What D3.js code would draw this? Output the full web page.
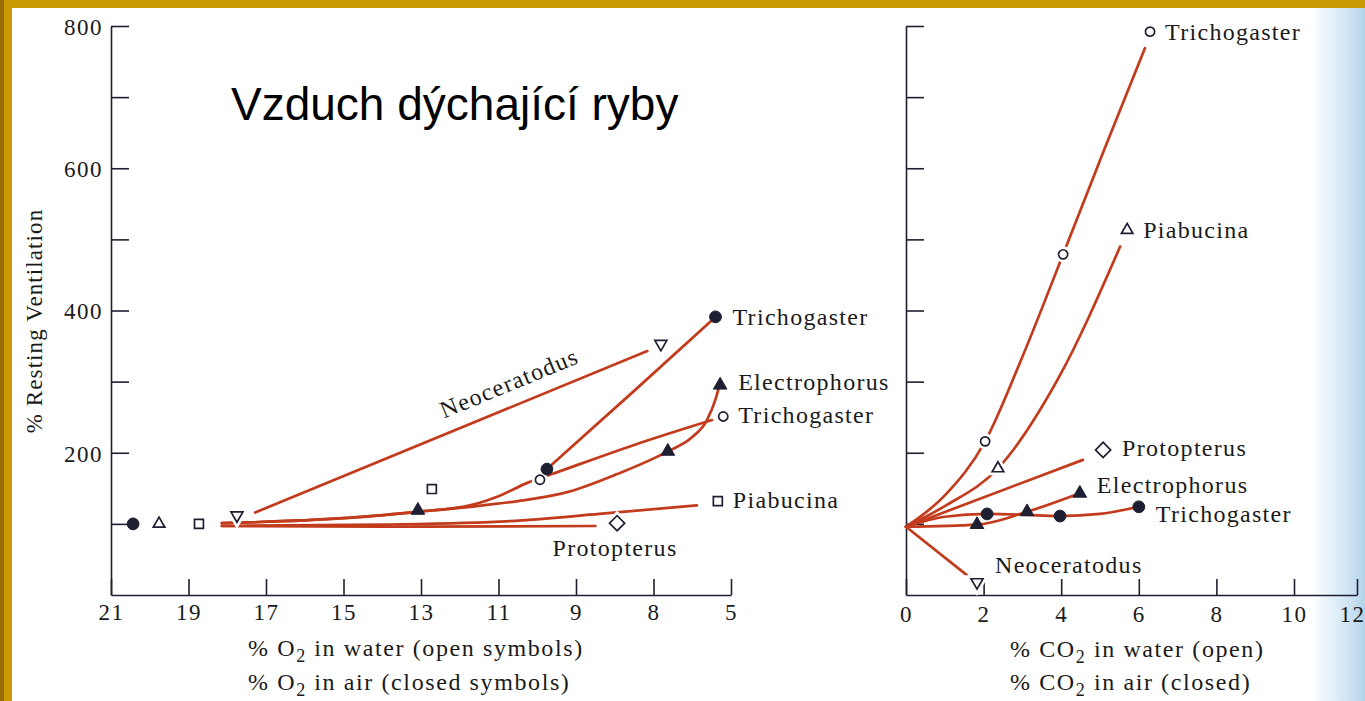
<!DOCTYPE html>
<html>
<head>
<meta charset="utf-8">
<script src="https://cdn.jsdelivr.net/npm/d3@7"></script>
<style>
  html, body { margin: 0; padding: 0; background: #fff; overflow: hidden; }
  svg { display: block; }
</style>
</head>
<body>
<div id="chart"></div>
<script>
// ---------- data ----------
const ventTicks = [100, 200, 300, 400, 500, 600, 700, 800];
const ventLabels = [200, 400, 600, 800];
const o2Ticks = [21, 19, 17, 15, 13, 11, 9, 7, 5];
const o2TickLabels = ["21", "19", "17", "15", "13", "11", "9", "8", "5"];
const co2Ticks = [0, 2, 4, 6, 8, 10, 12];
const co2TickLabels = ["0", "2", "4", "6", "8", "10", "12"];

// O2 panel curves: [% O2, % resting ventilation]
const o2Neoceratodus = [[17.28, 116], [7.16, 343]];
const o2TrichogasterAir = [[9.75, 177], [7.5, 287], [5.4, 391]];
const o2TrichogasterWater = [[18.14, 101], [15, 108], [13.1, 117], [11.74, 126], [11, 139], [10.24, 158], [9.62, 170], [7.5, 211], [5.49, 246]];
const o2Electrophorus = [[18.14, 101], [15, 108], [13.1, 117], [11.74, 124], [10.5, 132], [9.2, 145], [7.94, 170], [6.63, 202], [6.0, 222], [5.62, 246], [5.4, 275], [5.32, 290]];
const o2Piabucina = [[18.14, 97], [14, 99], [10.7, 104], [8.4, 114], [5.88, 126]];
const o2Protopterus = [[18.14, 97], [13, 96], [8.5, 97]];

// O2 panel symbols: [shape, filled, % O2, ventilation]
const o2Symbols = [
  ["circle", true, 20.43, 100],
  ["triangle", false, 19.76, 100],
  ["square", false, 18.73, 100],
  ["triangleDown", false, 17.75, 112],
  ["triangle", true, 13.08, 119],
  ["square", false, 12.72, 149],
  ["circle", false, 9.93, 162],
  ["circle", true, 9.75, 177],
  ["triangle", true, 6.63, 202],
  ["triangleDown", false, 6.81, 353]
];
// O2 panel named end points: [shape, filled, % O2, ventilation, name]
const o2Named = [
  ["circle", true, 5.4, 391, "Trichogaster"],
  ["triangle", true, 5.28, 295, "Electrophorus"],
  ["circle", false, 5.2, 251, "Trichogaster"],
  ["square", false, 5.34, 132, "Piabucina"],
  ["diamond", false, 7.94, 101, "Protopterus"]
];

// CO2 panel curves: [% CO2, % resting ventilation]
const co2TrichogasterWater = [[0, 96], [1, 140], [2.04, 216], [3, 335], [4.05, 479], [5.1, 625], [6.16, 769]];
const co2Piabucina = [[0, 96], [1, 125], [2.37, 178], [3.9, 302], [5.52, 490]];
const co2Protopterus = [[0, 96], [4.56, 190]];
const co2Electrophorus = [[0, 96], [1.83, 99], [3.12, 117], [4.48, 143]];
const co2TrichogasterAir = [[0, 96], [1, 110], [2.09, 114], [3, 113], [3.97, 111], [5, 114], [6, 124]];
const co2Neoceratodus = [[0, 96], [1.57, 28]];

// CO2 panel symbols: [shape, filled, % CO2, ventilation]
const co2Symbols = [
  ["circle", false, 2.04, 216],
  ["circle", false, 4.05, 479],
  ["triangle", false, 2.37, 178],
  ["triangle", true, 1.83, 99],
  ["triangle", true, 3.12, 117],
  ["circle", true, 2.09, 114],
  ["circle", true, 3.97, 111],
  ["triangleDown", false, 1.83, 18]
];
// CO2 panel named points: [shape, filled, % CO2, ventilation, name]
const co2Named = [
  ["circle", false, 6.29, 792, "Trichogaster"],
  ["triangle", false, 5.7, 513, "Piabucina"],
  ["diamond", false, 5.08, 204, "Protopterus"],
  ["triangle", true, 4.48, 143, "Electrophorus"],
  ["circle", true, 6.0, 124, "Trichogaster"],
  [null, false, 1.83, 18, "Neoceratodus"]
];

// ---------- drawing ----------
const W = 1365, H = 701;
const INK = "#1f1f33";
const RED = "#c23b1c";
const SERIF = "'Liberation Serif', 'Times New Roman', serif";

const svg = d3.select("#chart").append("svg")
  .attr("width", W).attr("height", H);

svg.append("rect").attr("width", W).attr("height", H).attr("fill", "#fff");

// bluish page edge at the right
const defs = svg.append("defs");
const grad = defs.append("linearGradient").attr("id", "edge").attr("x1", 0).attr("x2", 1).attr("y1", 0).attr("y2", 0);
grad.append("stop").attr("offset", "0%").attr("stop-color", "#cfe4f2").attr("stop-opacity", 0);
grad.append("stop").attr("offset", "50%").attr("stop-color", "#d6e9f4").attr("stop-opacity", 0.85);
grad.append("stop").attr("offset", "100%").attr("stop-color", "#b4d3e9").attr("stop-opacity", 1);
svg.append("rect").attr("x", 1312).attr("y", 0).attr("width", W - 1312).attr("height", H).attr("fill", "url(#edge)");

const y = d3.scaleLinear().domain([0, 800]).range([595, 26]);
const xO2 = d3.scaleLinear().domain([21, 5]).range([111, 731]);
const xCO2 = d3.scaleLinear().domain([0, 10, 12]).range([906, 1294, 1357]);

function styleAxis(g, fontSize) {
  g.select(".domain").attr("stroke", INK).attr("stroke-width", 1.6);
  g.selectAll(".tick line").attr("stroke", INK).attr("stroke-width", 1.6);
  g.selectAll(".tick text")
    .attr("fill", "#1a1a1a")
    .style("font-family", SERIF)
    .style("font-size", fontSize + "px")
    .style("letter-spacing", "1.5px");
}

// vertical axes
function drawYAxis(x0, withLabels) {
  const ax = d3.axisLeft(y).tickValues(ventTicks).tickSize(-18).tickSizeOuter(0).tickPadding(8)
    .tickFormat(d => (withLabels && ventLabels.includes(d)) ? d : "");
  const g = svg.append("g").attr("transform", `translate(${x0},0)`).call(ax);
  styleAxis(g, 23);
  g.selectAll(".tick text").attr("dy", "0.36em");
}
drawYAxis(xO2(21), true);
drawYAxis(xCO2(0), false);

// horizontal axes
const gxO2 = svg.append("g").attr("transform", `translate(0,${y(0)})`)
  .call(d3.axisBottom(xO2).tickValues(o2Ticks).tickSize(-16).tickSizeOuter(0).tickPadding(9)
    .tickFormat((d, i) => o2TickLabels[i]));
styleAxis(gxO2, 23);

const gxCO2 = svg.append("g").attr("transform", `translate(0,${y(0)})`)
  .call(d3.axisBottom(xCO2).tickValues(co2Ticks).tickSize(-16).tickSizeOuter(0).tickPadding(11)
    .tickFormat((d, i) => co2TickLabels[i]));
styleAxis(gxCO2, 23);
// keep the last label inside the page
gxCO2.selectAll(".tick text").filter(d => d === 12).attr("text-anchor", "end").attr("dx", 8);

// curves
function drawCurves(xs, list) {
  const line = d3.line().x(d => xs(d[0])).y(d => y(d[1])).curve(d3.curveMonotoneX);
  svg.append("g").selectAll("path").data(list).join("path")
    .attr("d", line)
    .attr("fill", "none")
    .attr("stroke", RED)
    .attr("stroke-width", 2.7)
    .attr("stroke-linecap", "round");
}
drawCurves(xO2, [o2Neoceratodus, o2TrichogasterAir, o2TrichogasterWater, o2Electrophorus, o2Piabucina, o2Protopterus]);
drawCurves(xCO2, [co2TrichogasterWater, co2Piabucina, co2Protopterus, co2Electrophorus, co2TrichogasterAir, co2Neoceratodus]);

// symbols
const symbolType = {
  circle: d3.symbolCircle, triangle: d3.symbolTriangle, triangleDown: d3.symbolTriangle,
  square: d3.symbolSquare, diamond: d3.symbolSquare
};
const symbolRot = { triangleDown: 180, diamond: 45 };
function symbolSize(shape, filled) {
  if (shape === "circle") return filled ? 110 : 66;
  if (shape === "triangle") return filled ? 80 : 58;
  if (shape === "triangleDown") return 62;
  if (shape === "square") return 80;
  if (shape === "diamond") return 115;
  return 60;
}
function drawSymbols(xs, list) {
  const g = svg.append("g");
  list.filter(d => d[0]).forEach(d => {
    const [shape, filled, xv, v] = d;
    const path = d3.symbol().type(symbolType[shape]).size(symbolSize(shape, filled))();
    const tr = `translate(${xs(xv)},${y(v)}) rotate(${symbolRot[shape] || 0})`;
    if (!filled) {
      // white knock-out so curves break around open symbols
      g.append("path").attr("d", path).attr("transform", tr)
        .attr("fill", "#fff").attr("stroke", "#fff").attr("stroke-width", 7);
    }
    g.append("path").attr("d", path).attr("transform", tr)
      .attr("fill", filled ? INK : "#fff")
      .attr("stroke", INK)
      .attr("stroke-width", filled ? 1 : 1.7)
      .attr("stroke-linejoin", "miter");
  });
}
drawSymbols(xO2, o2Symbols.concat(o2Named));
drawSymbols(xCO2, co2Symbols.concat(co2Named));

// species names beside their points
function drawNames(xs, list, offsets) {
  const g = svg.append("g")
    .style("font-family", SERIF).style("font-size", "24px")
    .style("letter-spacing", "1.3px").attr("fill", "#1a1a1a");
  list.forEach((d, i) => {
    const [dx, dy, anchor] = offsets[i];
    g.append("text")
      .attr("x", xs(d[2]) + dx).attr("y", y(d[3]) + dy)
      .attr("text-anchor", anchor)
      .text(d[4]);
  });
}
drawNames(xO2, o2Named, [[17, 8, "start"], [18, 5, "start"], [15, 7, "start"], [15, 7, "start"], [-2, 33, "middle"]]);
drawNames(xCO2, co2Named, [[15, 8, "start"], [16, 8, "start"], [19, 6, "start"], [17, 0, "start"], [17, 15, "start"], [18, -9, "start"]]);

// Neoceratodus name along its line
{
  const a = o2Neoceratodus[0], b = o2Neoceratodus[1];
  const x1 = xO2(a[0]), y1 = y(a[1]), x2 = xO2(b[0]), y2 = y(b[1]);
  const ang = Math.atan2(y2 - y1, x2 - x1) * 180 / Math.PI;
  const t = 0.67;
  const cx = x1 + (x2 - x1) * t, cy = y1 + (y2 - y1) * t;
  svg.append("text")
    .attr("transform", `translate(${cx},${cy}) rotate(${ang}) translate(0,-15)`)
    .attr("text-anchor", "middle")
    .style("font-family", SERIF).style("font-size", "24px").style("letter-spacing", "1.3px")
    .attr("fill", "#1a1a1a")
    .text("Neoceratodus");
}

// axis titles
svg.append("text")
  .attr("transform", "translate(42,321) rotate(-90)")
  .attr("text-anchor", "middle")
  .style("font-family", SERIF).style("font-size", "23px").style("letter-spacing", "1.1px")
  .attr("fill", "#1a1a1a")
  .text("% Resting Ventilation");

function xTitle(x0, y0, parts) {
  const t = svg.append("text").attr("x", x0).attr("y", y0)
    .style("font-family", SERIF).style("font-size", "24px").style("letter-spacing", "1.6px")
    .attr("fill", "#1a1a1a");
  t.append("tspan").text(parts[0]);
  t.append("tspan").attr("dy", 6).style("font-size", "18px").text("2");
  t.append("tspan").attr("dy", -6).text(parts[1]);
}
xTitle(248, 656, ["% O", " in water (open symbols)"]);
xTitle(248, 690, ["% O", " in air (closed symbols)"]);
xTitle(1010, 657, ["% CO", " in water (open)"]);
xTitle(1010, 690, ["% CO", " in air (closed)"]);

// slide title
svg.append("text")
  .attr("x", 231).attr("y", 120)
  .style("font-family", "'Liberation Sans', Arial, sans-serif")
  .style("font-size", "46px")
  .attr("fill", "#000")
  .text("Vzduch dýchající ryby");

// golden frame
svg.append("rect").attr("x", 0).attr("y", 0).attr("width", W).attr("height", 8).attr("fill", "#c99a02");
svg.append("rect").attr("x", 0).attr("y", 0).attr("width", 12).attr("height", H).attr("fill", "#c99a02");
svg.append("rect").attr("x", 0).attr("y", 0).attr("width", 4).attr("height", H).attr("fill", "#9c6c04");
</script>
</body>
</html>
